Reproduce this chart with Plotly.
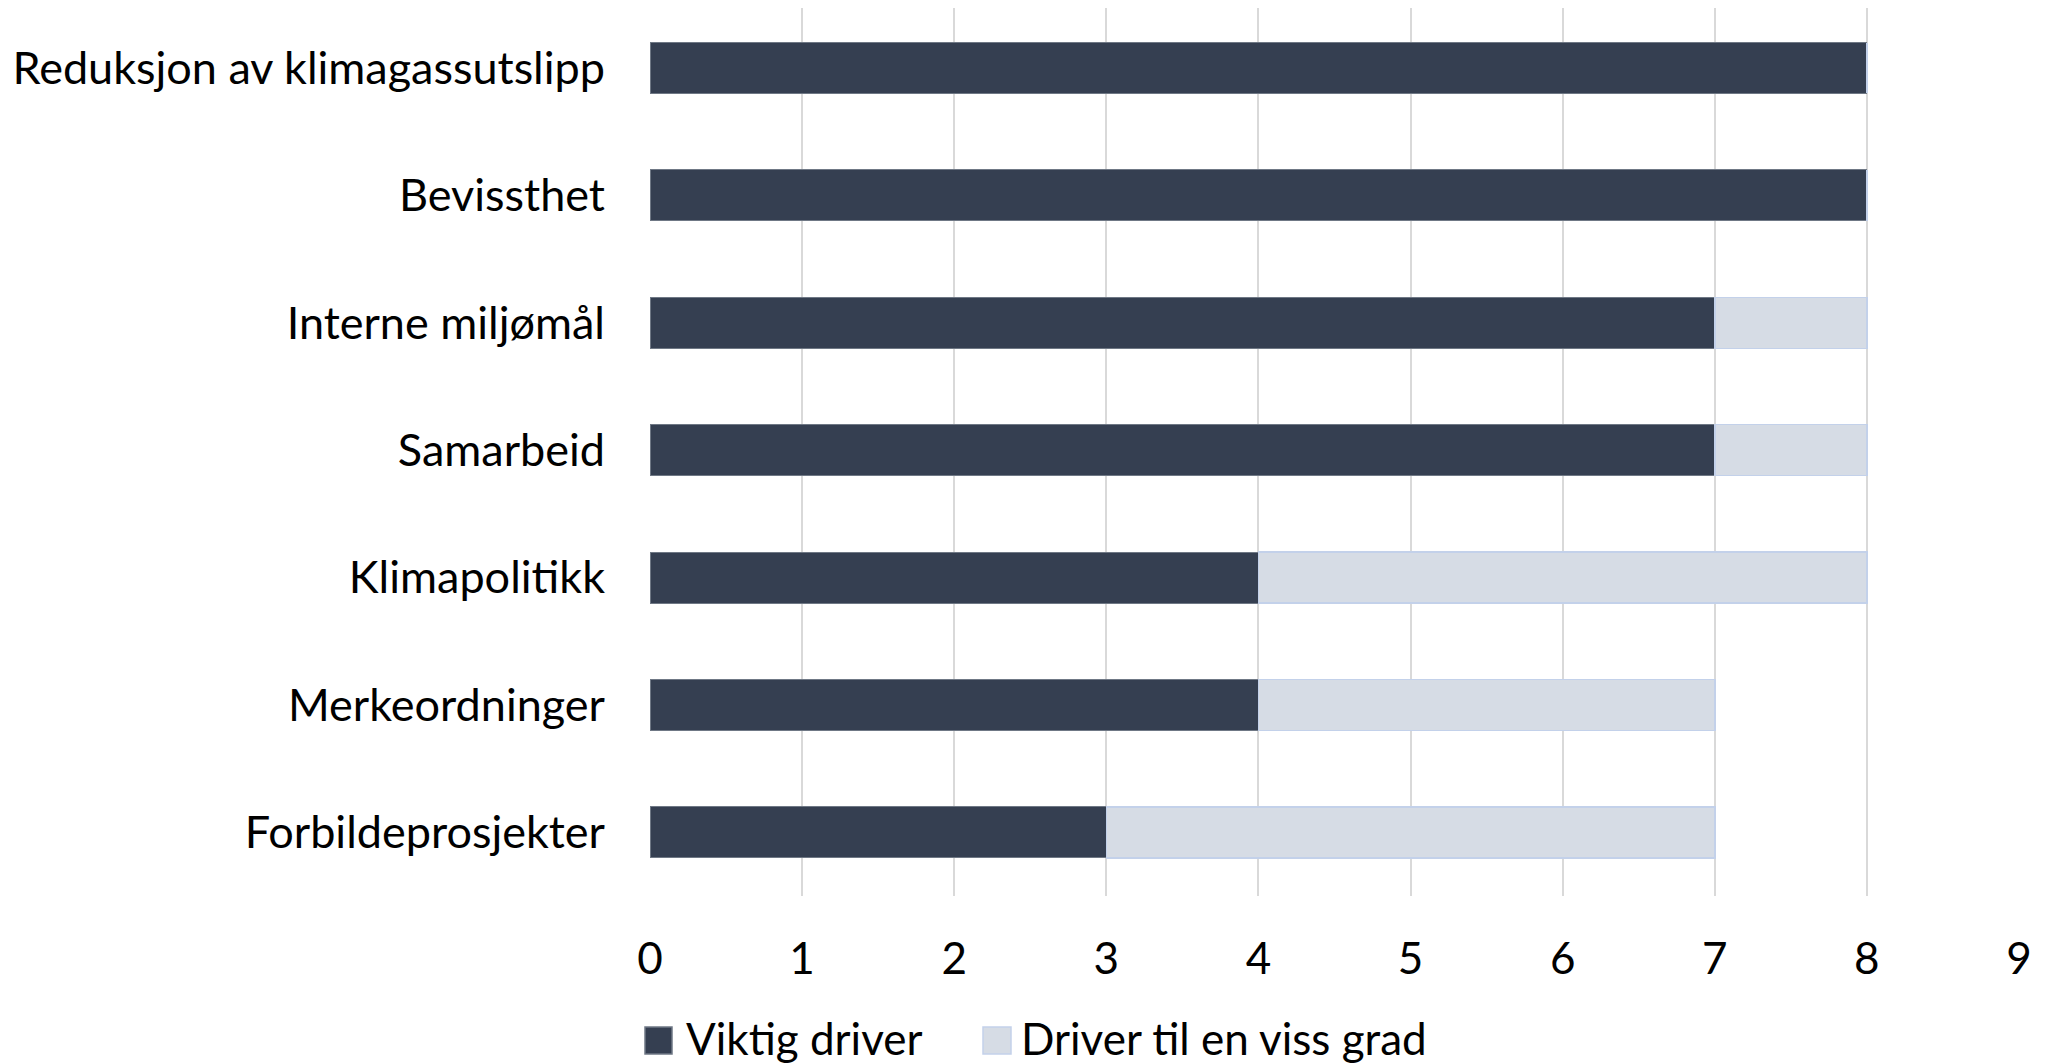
import plotly.graph_objects as go

categories = ["Reduksjon av klimagassutslipp", "Bevissthet", "Interne miljømål", "Samarbeid",
              "Klimapolitikk", "Merkeordninger", "Forbildeprosjekter"]
viktig = [8, 8, 7, 7, 4, 4, 3]
viss_grad = [0, 0, 1, 1, 4, 3, 4]
series_names = ["Viktig driver", "Driver til en viss grad"]
x_ticks = [0, 1, 2, 3, 4, 5, 6, 7, 8, 9]

FONT = "Lato"
FS = 44
DARK = "#353F51"
DARK_EDGE = "#6F7885"
LIGHT = "#D6DCE5"
LIGHT_EDGE = "#C3D1EA"

W, H = 2041, 1056
L, R, T, B = 642, 30, 0, 168
pw = W - L - R
ph = H - T - B

fig = go.Figure()
fig.add_trace(go.Bar(y=categories, x=viktig, orientation="h", name=series_names[0],
                     showlegend=False,
                     marker=dict(color=DARK, line=dict(color=DARK_EDGE, width=1))))
fig.add_trace(go.Bar(y=categories, x=viss_grad, orientation="h", name=series_names[1],
                     showlegend=False,
                     marker=dict(color=LIGHT, line=dict(color=LIGHT_EDGE, width=1.5))))


def px_x(p):
    return (p - L) / pw


def px_y(p):
    return (T + ph - p) / ph


# custom legend (layout only)
legend_items = [(series_names[0], 637, 664, 677, DARK, DARK_EDGE),
                (series_names[1], 975, 1003, 1012, LIGHT, LIGHT_EDGE)]
shapes = []
annotations = []
for name, sx0, sx1, tx, fc, lc in legend_items:
    shapes.append(dict(type="rect", xref="paper", yref="paper",
                       x0=px_x(sx0), x1=px_x(sx1), y0=px_y(1046), y1=px_y(1019),
                       fillcolor=fc, line=dict(color=lc, width=1.5), layer="above"))
    annotations.append(dict(text=name, xref="paper", yref="paper", x=px_x(tx), y=px_y(1030),
                            xanchor="left", yanchor="middle", showarrow=False,
                            font=dict(family=FONT, size=FS, color="#000000"), borderpad=0))

fig.update_layout(
    barmode="stack", bargap=0.6,
    width=W, height=H,
    paper_bgcolor="white", plot_bgcolor="white",
    margin=dict(l=L, r=R, t=T, b=B, autoexpand=False),
    font=dict(family=FONT, size=FS, color="#000000"),
    xaxis=dict(range=[0, 9], tickvals=x_ticks, showgrid=True, gridcolor="#D9D9D9", gridwidth=2,
               zeroline=False, showline=False, ticks="", ticklabelstandoff=33,
               tickfont=dict(size=FS), fixedrange=True),
    yaxis=dict(range=[6.5, -0.471], showgrid=False, zeroline=False, showline=False,
               ticks="", ticklabelstandoff=44, tickfont=dict(size=45), fixedrange=True),
    shapes=shapes,
    annotations=annotations,
    showlegend=False,
)
fig.write_html("out.html")
